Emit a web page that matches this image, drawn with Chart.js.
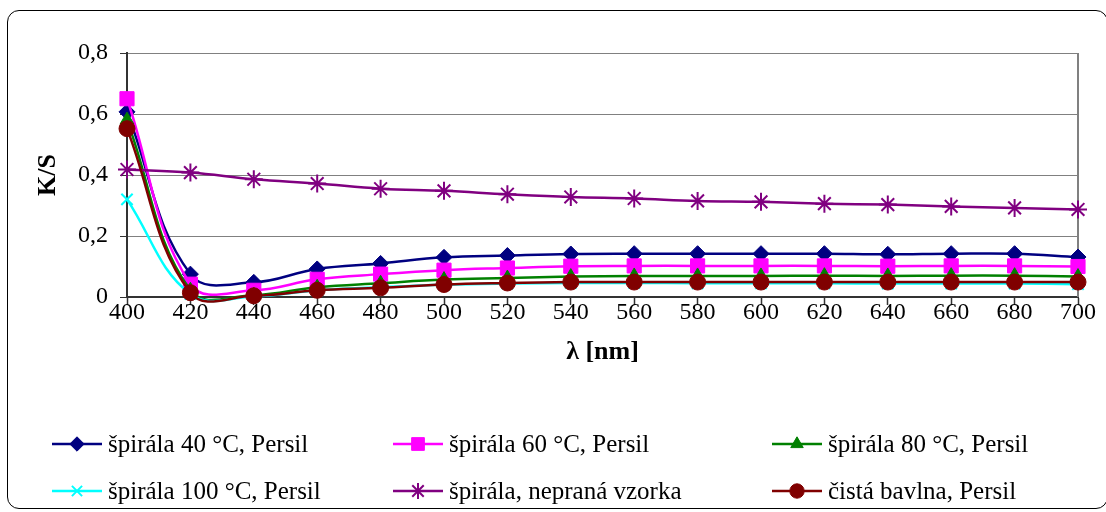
<!DOCTYPE html>
<html>
<head>
<meta charset="utf-8">
<script src="https://cdn.jsdelivr.net/npm/chart.js@4.4.1/dist/chart.umd.min.js"></script>
<style>
  html, body { margin: 0; padding: 0; background: #fff; overflow: hidden; }
  #wrap { position: relative; width: 1106px; height: 512px; overflow: hidden; }
  #frame {
    position: absolute; left: 7px; top: 10px; width: 1101px; height: 499px;
    border: 1.5px solid #000; border-radius: 12px; box-sizing: border-box;
  }
  #chart { position: absolute; left: 0; top: 0; }
</style>
</head>
<body>
<div id="wrap">
  <div id="frame"></div>
  <canvas id="chart" width="1106" height="512"></canvas>
</div>
<script>
// wavelength (nm)
const wavelengths = [400, 420, 440, 460, 480, 500, 520, 540, 560, 580, 600, 620, 640, 660, 680, 700];

// K/S values
const spirala40 = [0.607, 0.075, 0.048, 0.092, 0.110, 0.130, 0.136, 0.141, 0.142, 0.142, 0.142, 0.142, 0.140, 0.142, 0.142, 0.131];
const spirala60 = [0.650, 0.042, 0.022, 0.058, 0.075, 0.088, 0.095, 0.101, 0.102, 0.102, 0.102, 0.102, 0.101, 0.102, 0.102, 0.100];
const spirala80 = [0.580, 0.022, 0.006, 0.032, 0.045, 0.057, 0.062, 0.067, 0.069, 0.069, 0.069, 0.070, 0.069, 0.070, 0.070, 0.067];
const spirala100 = [0.320, 0.010, 0.002, 0.022, 0.032, 0.040, 0.044, 0.046, 0.046, 0.045, 0.045, 0.045, 0.044, 0.044, 0.044, 0.042];
const nepranaVzorka = [0.418, 0.408, 0.386, 0.372, 0.355, 0.348, 0.337, 0.328, 0.323, 0.315, 0.312, 0.306, 0.303, 0.297, 0.292, 0.287];
const cistaBavlna = [0.552, 0.014, 0.004, 0.022, 0.030, 0.041, 0.046, 0.049, 0.049, 0.049, 0.049, 0.049, 0.049, 0.049, 0.049, 0.049];

const seriesNames = [
  'špirála 40 °C, Persil',
  'špirála 60 °C, Persil',
  'špirála 80 °C, Persil',
  'špirála 100 °C, Persil',
  'špirála, nepraná vzorka',
  'čistá bavlna, Persil'
];

const yTicks = [0, 0.2, 0.4, 0.6, 0.8];

const FONT = "'Liberation Serif', 'Times New Roman', serif";

function series(label, data, color, style, radius, bw) {
  return {
    label, data,
    borderColor: color,
    backgroundColor: color,
    borderWidth: 2.5,
    tension: 0.4,
    clip: false,
    pointStyle: style,
    pointRadius: radius,
    pointHoverRadius: radius,
    pointBackgroundColor: color,
    pointBorderColor: color,
    pointBorderWidth: bw
  };
}

const datasets = [
  series(seriesNames[0], spirala40, '#000080', 'rectRot', 8, 1),
  series(seriesNames[1], spirala60, '#FF00FF', 'rect', 10, 1),
  series(seriesNames[2], spirala80, '#008000', 'triangle', 8, 1),
  series(seriesNames[3], spirala100, '#00FFFF', 'crossRot', 8, 2),
  series(seriesNames[4], nepranaVzorka, '#800080', 'star', 9, 2),
  series(seriesNames[5], cistaBavlna, '#800000', 'circle', 8, 1)
];
// later series on top, like the original
datasets.forEach((d, i) => { d.order = datasets.length - i; });

// gray plot-area frame on the right side
const plotFrame = {
  id: 'plotFrame',
  beforeDatasetsDraw(chart) {
    const { ctx, chartArea: a } = chart;
    ctx.save();
    ctx.strokeStyle = '#808080';
    ctx.lineWidth = 2;
    ctx.beginPath();
    ctx.moveTo(a.right, a.top);
    ctx.lineTo(a.right, a.bottom);
    ctx.stroke();
    ctx.restore();
  }
};

// 3-column legend under the chart
const gridLegend = {
  id: 'gridLegend',
  afterDraw(chart) {
    const { ctx } = chart;
    const cols = [52, 393, 772];
    const rows = [444, 491];
    ctx.save();
    chart.data.datasets.forEach((ds, i) => {
      const x0 = cols[i % 3];
      const y = rows[Math.floor(i / 3)];
      ctx.strokeStyle = ds.borderColor;
      ctx.lineWidth = 2.5;
      ctx.beginPath();
      ctx.moveTo(x0, y);
      ctx.lineTo(x0 + 50, y);
      ctx.stroke();
      ctx.fillStyle = ds.pointBackgroundColor;
      ctx.strokeStyle = ds.pointBorderColor;
      ctx.lineWidth = ds.pointBorderWidth;
      Chart.helpers.drawPoint(ctx, {
        pointStyle: ds.pointStyle,
        radius: ds.pointRadius * 0.9,
        rotation: 0,
        borderWidth: ds.pointBorderWidth
      }, x0 + 25, y);
      ctx.fillStyle = '#000';
      ctx.font = '25px ' + FONT;
      ctx.textBaseline = 'middle';
      ctx.textAlign = 'left';
      ctx.fillText(ds.label, x0 + 56, y + 1);
    });
    ctx.restore();
  }
};

new Chart(document.getElementById('chart'), {
  type: 'line',
  data: { labels: wavelengths, datasets },
  plugins: [plotFrame, gridLegend],
  options: {
    responsive: false,
    animation: false,
    elements: { line: { capBezierPoints: false } },
    layout: { padding: { top: 53, right: 28, bottom: 115, left: 0 } },
    plugins: {
      legend: { display: false },
      tooltip: { enabled: false }
    },
    scales: {
      x: {
        type: 'category',
        offset: false,
        afterFit: (s) => { s.height = 100; },
        grid: { drawOnChartArea: false, drawTicks: true, tickLength: 8, tickColor: '#333', tickWidth: 1.5 },
        border: { color: '#333', width: 2 },
        ticks: {
          autoSkip: false, maxRotation: 0, padding: -4, color: '#000',
          font: { family: FONT, size: 24, lineHeight: 1 }
        },
        title: {
          display: true, text: 'λ [nm]', color: '#000',
          font: { family: FONT, size: 26, weight: 'bold' },
          padding: { top: 0, bottom: 29 }
        }
      },
      y: {
        min: 0, max: 0.8,
        afterFit: (s) => { s.width = 127; },
        afterBuildTicks: (s) => { s.ticks = yTicks.map((v) => ({ value: v })); },
        grid: { color: '#808080', lineWidth: 1, tickLength: 7, tickColor: '#333' },
        border: { color: '#333', width: 2 },
        ticks: {
          padding: 12, color: '#000',
          font: { family: FONT, size: 24 },
          callback: (v) => (v === 0 ? '0' : v.toFixed(1).replace('.', ','))
        },
        title: {
          display: true, text: 'K/S', color: '#000',
          font: { family: FONT, size: 26, weight: 'bold' },
          padding: { top: 33, bottom: 0 }
        }
      }
    }
  }
});
</script>
</body>
</html>
